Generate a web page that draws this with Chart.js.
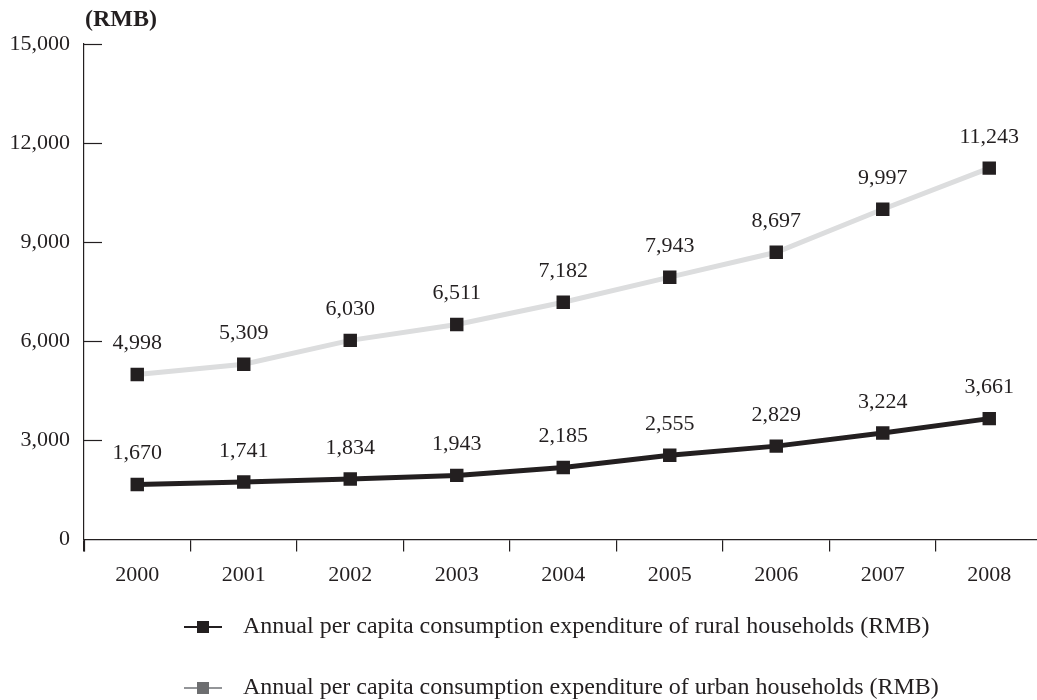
<!DOCTYPE html>
<html>
<head>
<meta charset="utf-8">
<script src="https://cdn.jsdelivr.net/npm/chart.js@4.4.1/dist/chart.umd.min.js"></script>
<style>
  html, body { margin: 0; padding: 0; background: #ffffff; overflow: hidden; }
  #wrap { position: relative; width: 1037px; height: 700px; overflow: hidden; }
</style>
</head>
<body>
<div id="wrap"><canvas id="chart" width="1052" height="700"></canvas></div>
<script>
// Years on the category axis
const years = ['2000', '2001', '2002', '2003', '2004', '2005', '2006', '2007', '2008'];
// Annual per capita consumption expenditure (RMB)
const ruralSpending = [1670, 1741, 1834, 1943, 2185, 2555, 2829, 3224, 3661];
const urbanSpending = [4998, 5309, 6030, 6511, 7182, 7943, 8697, 9997, 11243];
// Value axis ticks
const yTicks = [0, 3000, 6000, 9000, 12000, 15000];
const seriesNames = [
  'Annual per capita consumption expenditure of rural households (RMB)',
  'Annual per capita consumption expenditure of urban households (RMB)'
];
const unitLabel = '(RMB)';

const INK = '#231f20';
const FONT = '"Liberation Serif", "Times New Roman", serif';
const fmt = v => v.toLocaleString('en-US');

// Inner tick marks on the value axis, data labels, unit label and legend
const decorations = {
  id: 'decorations',
  afterDatasetsDraw(chart) {
    const ctx = chart.ctx;
    const y = chart.scales.y;
    const area = chart.chartArea;
    ctx.save();
    // short ticks pointing into the plot
    ctx.strokeStyle = INK;
    ctx.lineWidth = 1.2;
    yTicks.forEach(v => {
      if (v === 0) return;
      const py = Math.round(y.getPixelForValue(v)) + 0.5;
      ctx.beginPath();
      ctx.moveTo(area.left, py);
      ctx.lineTo(area.left + 18, py);
      ctx.stroke();
    });
    // y axis continues a little below the x axis
    ctx.beginPath();
    ctx.moveTo(area.left + 0.5, area.bottom);
    ctx.lineTo(area.left + 0.5, area.bottom + 12);
    ctx.stroke();

    // value labels above each point
    ctx.fillStyle = INK;
    ctx.font = '22px ' + FONT;
    ctx.textAlign = 'center';
    ctx.textBaseline = 'middle';
    chart.data.datasets.forEach((ds, i) => {
      const meta = chart.getDatasetMeta(i);
      meta.data.forEach((pt, j) => {
        ctx.fillText(fmt(ds.data[j]), pt.x, pt.y - 31);
      });
    });

    // unit label
    ctx.font = 'bold 24px ' + FONT;
    ctx.textAlign = 'left';
    ctx.fillText(unitLabel, area.left + 1, 20);

    // legend rows
    const rows = [
      { y: 627, line: INK, box: INK, text: seriesNames[0] },
      { y: 688, line: '#939598', box: '#6d6e70', text: seriesNames[1] }
    ];
    rows.forEach(r => {
      ctx.strokeStyle = r.line;
      ctx.lineWidth = 2;
      ctx.beginPath();
      ctx.moveTo(184, r.y);
      ctx.lineTo(222, r.y);
      ctx.stroke();
      ctx.fillStyle = r.box;
      ctx.fillRect(197, r.y - 6, 12, 12);
      ctx.fillStyle = INK;
      ctx.font = '24px ' + FONT;
      ctx.textAlign = 'left';
      ctx.fillText(r.text, 243, r.y);
    });
    ctx.restore();
  }
};

new Chart(document.getElementById('chart'), {
  type: 'line',
  data: {
    labels: years,
    datasets: [
      {
        label: seriesNames[0],
        data: ruralSpending,
        borderColor: INK,
        borderWidth: 5,
        pointStyle: 'rect',
        pointRadius: 9.5,
        pointBorderWidth: 0,
        pointBackgroundColor: INK,
        pointBorderColor: INK,
        tension: 0
      },
      {
        label: seriesNames[1],
        data: urbanSpending,
        borderColor: '#dcddde',
        borderWidth: 5,
        pointStyle: 'rect',
        pointRadius: 9.5,
        pointBorderWidth: 0,
        pointBackgroundColor: INK,
        pointBorderColor: INK,
        tension: 0
      }
    ]
  },
  options: {
    responsive: false,
    animation: false,
    devicePixelRatio: 1,
    layout: { padding: { top: 44, right: 0, bottom: 102, left: 0 } },
    plugins: {
      legend: { display: false },
      tooltip: { enabled: false }
    },
    scales: {
      x: {
        offset: true,
        grid: {
          offset: true,
          drawOnChartArea: false,
          drawTicks: true,
          tickLength: 12,
          color: INK,
          lineWidth: 1.2
        },
        border: { display: true, color: INK, width: 1.2 },
        ticks: {
          color: INK,
          font: { family: FONT, size: 22 },
          padding: 10,
          maxRotation: 0
        }
      },
      y: {
        min: 0,
        max: 15000,
        afterBuildTicks(scale) { scale.ticks = yTicks.map(v => ({ value: v })); },
        afterFit(scale) { scale.width = 84; },
        grid: { drawOnChartArea: false, drawTicks: false },
        border: { display: true, color: INK, width: 1.2 },
        ticks: {
          color: INK,
          font: { family: FONT, size: 22 },
          padding: 14,
          callback: v => fmt(v)
        }
      }
    }
  },
  plugins: [decorations]
});
</script>
</body>
</html>
